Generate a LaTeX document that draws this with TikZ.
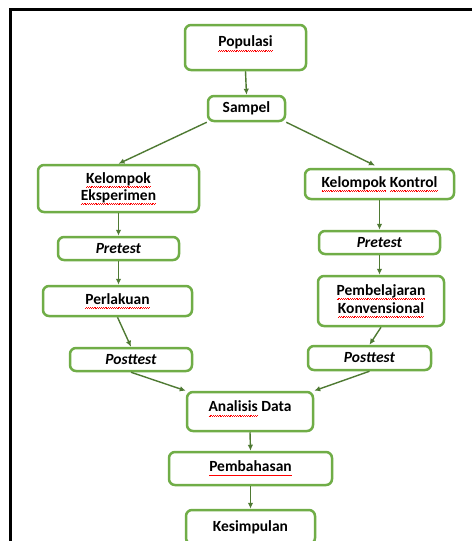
\documentclass[tikz,border=0pt]{standalone}
\usepackage{fontspec}
\setmainfont{Carlito}
\usetikzlibrary{arrows.meta,calc}
\definecolor{boxgreen}{HTML}{70AD47}
\definecolor{arrowgreen}{HTML}{4F7A33}
\newcommand\sq[1]{\setbox0\hbox{#1}\leavevmode\rlap{\color{red}\hbox to \wd0{\xleaders\hbox{\rule[-4.2pt]{0.9pt}{0.6pt}\rule[-3.5pt]{0.9pt}{0.6pt}}\hfill}}\box0\relax}
\tikzset{
  box/.style={draw=boxgreen, line width=2.5pt, rounded corners=6pt, fill=white,
    align=center, inner sep=1pt, font=\fontsize{15.5}{18}\selectfont\bfseries, text=black},
  conn/.style={draw=arrowgreen, line width=1.4pt, -{Latex[length=6pt,width=5.5pt]}}
}
\begin{document}
\begin{tikzpicture}[x=1pt,y=-1pt]
\useasboundingbox (0,0) rectangle (472,541);
\fill[white] (0,0) rectangle (472,541);
\draw[line width=3pt, black] (472,9.5) -- (10.5,9.5) -- (10.5,545);

\node[box, minimum width=121pt, minimum height=45pt, text depth=12pt] (pop) at (245.5,47.5) {\sq{Populasi}};
\node[box, minimum width=77pt, minimum height=25pt] (sam) at (246.5,108.5) {Sampel};
\node[box, minimum width=161pt, minimum height=47pt] (ke) at (118.5,188.5) {\sq{Kelompok}\\[-0.5pt]\sq{Eksperimen}};
\node[box, minimum width=149pt, minimum height=30pt] (kk) at (379.5,184) {\sq{Kelompok} \sq{Kontrol}};
\node[box, minimum width=121pt, minimum height=23pt] (pre1) at (118.5,248.5) {\textit{Pretest}};
\node[box, minimum width=121pt, minimum height=23pt] (pre2) at (379.5,242.5) {\textit{Pretest}};
\node[box, minimum width=149pt, minimum height=30pt] (perl) at (117.5,301) {\sq{Perlakuan}};
\node[box, minimum width=126pt, minimum height=50pt] (pk) at (381,301) {\sq{Pembelajaran}\\[-0.5pt]\sq{Konvensional}};
\node[box, minimum width=122pt, minimum height=23pt] (post1) at (131,359.5) {\textit{Posttest}};
\node[box, minimum width=123pt, minimum height=24pt] (post2) at (369.5,358) {\textit{Posttest}};
\node[box, minimum width=126pt, minimum height=39pt, text depth=10pt] (ana) at (250,411.5) {\sq{Analisis} Data};
\node[box, minimum width=163pt, minimum height=33pt] (bah) at (250.5,468.5) {\sq{Pembahasan}};
\node[box, minimum width=129pt, minimum height=34pt] (kes) at (250.5,527) {Kesimpulan};

\draw[conn] (pop.south) -- (sam.north);
\draw[conn] (sam.south west) -- (ke.north);
\draw[conn, shorten >=5pt] (sam.south east) -- (kk.north);
\draw[conn] (ke.south) -- (pre1.north);
\draw[conn] (kk.south) -- (pre2.north);
\draw[conn] (pre1.south) -- (pre1.south |- perl.north);
\draw[conn] (pre2.south) -- (pre2.south |- pk.north);
\draw[conn] (perl.south) -- (post1.north);
\draw[conn] (pk.south) -- (post2.north);
\draw[conn] (post1.south) -- (ana.north west);
\draw[conn] (post2.south) -- (ana.north east);
\draw[conn] (ana.south) -- (bah.north);
\draw[conn] (bah.south) -- (kes.north);
\end{tikzpicture}
\end{document}
